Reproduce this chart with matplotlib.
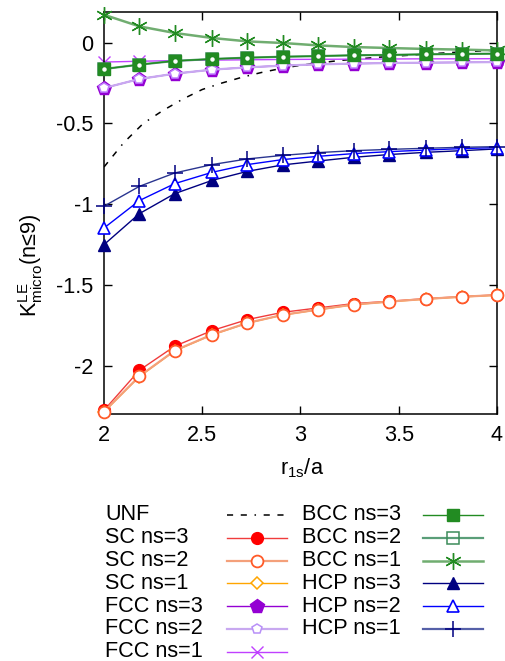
import matplotlib
matplotlib.use('Agg')
import matplotlib.pyplot as plt

plt.rcParams['font.family'] = ['Liberation Sans', 'DejaVu Sans']
plt.rcParams['mathtext.fontset'] = 'custom'
plt.rcParams['mathtext.rm'] = 'Liberation Sans'
plt.rcParams['mathtext.it'] = 'Liberation Sans'

FS = 15.6

# ---------------- data ----------------
r1s = [2.00, 2.18, 2.36, 2.55, 2.73, 2.91, 3.09, 3.27, 3.45, 3.64, 3.82, 4.00]

unf_r = [2.0, 2.1, 2.2, 2.3, 2.4, 2.5, 2.6, 2.7, 2.8, 2.9, 3.0,
         3.1, 3.2, 3.3, 3.4, 3.5, 3.6, 3.7, 3.8, 3.9, 4.0]
unf_k = [-0.77, -0.62, -0.50, -0.42, -0.35, -0.29, -0.25, -0.215, -0.185, -0.16, -0.14,
         -0.125, -0.11, -0.10, -0.09, -0.082, -0.074, -0.066, -0.059, -0.052, -0.046]

sc3 = [-2.277, -2.029, -1.880, -1.783, -1.715, -1.670, -1.643, -1.616, -1.602, -1.585, -1.573, -1.562]
sc2 = [-2.285, -2.066, -1.907, -1.808, -1.736, -1.686, -1.653, -1.622, -1.604, -1.587, -1.574, -1.563]
sc1 = [-2.287, -2.068, -1.909, -1.810, -1.737, -1.687, -1.654, -1.623, -1.605, -1.588, -1.575, -1.564]

fcc3 = [-0.281, -0.225, -0.192, -0.167, -0.153, -0.142, -0.134, -0.130, -0.126, -0.124, -0.122, -0.120]
fcc2 = [-0.281, -0.225, -0.192, -0.167, -0.153, -0.142, -0.134, -0.130, -0.126, -0.124, -0.122, -0.120]
fcc1 = [-0.120, -0.115, -0.111, -0.108, -0.106, -0.104, -0.103, -0.102, -0.101, -0.100, -0.100, -0.099]

bcc3 = [-0.163, -0.136, -0.113, -0.101, -0.093, -0.087, -0.083, -0.078, -0.076, -0.072, -0.070, -0.068]
bcc2 = [-0.163, -0.136, -0.113, -0.101, -0.093, -0.087, -0.083, -0.078, -0.076, -0.072, -0.070, -0.068]
bcc1 = [0.173, 0.101, 0.060, 0.029, 0.008, -0.002, -0.017, -0.027, -0.033, -0.039, -0.043, -0.048]

hcp3 = [-1.251, -1.059, -0.935, -0.853, -0.797, -0.757, -0.733, -0.710, -0.693, -0.679, -0.669, -0.658]
hcp2 = [-1.148, -0.978, -0.873, -0.803, -0.755, -0.724, -0.704, -0.687, -0.675, -0.665, -0.656, -0.650]
hcp1 = [-1.013, -0.890, -0.807, -0.755, -0.720, -0.698, -0.681, -0.669, -0.661, -0.654, -0.648, -0.644]

labels = ['UNF', 'SC ns=3', 'SC ns=2', 'SC ns=1', 'FCC ns=3', 'FCC ns=2', 'FCC ns=1',
          'BCC ns=3', 'BCC ns=2', 'BCC ns=1', 'HCP ns=3', 'HCP ns=2', 'HCP ns=1']

# ---------------- styles ----------------
unf_style = dict(color='black', lw=1.1, linestyle=(0, (4, 5, 4, 5, 1, 5)))
styles = {
    'SC ns=3':  dict(color='#f03c3c', lw=1.0, marker='o', ms=8.5, mfc='#ff0000', mec='#ff0000'),
    'SC ns=2':  dict(color='#f4a07a', lw=1.6, marker='o', ms=8.5, mfc='white', mec='#ff5a28', mew=1.3),
    'SC ns=1':  dict(color='#ffa500', lw=1.0, marker='D', ms=6.5, mfc='white', mec='#ffa500', mew=1.1),
    'FCC ns=3': dict(color='#9400d3', lw=1.0, marker='p', ms=10, mfc='#9400d3', mec='#9400d3'),
    'FCC ns=2': dict(color='#c8a8f0', lw=1.6, marker='p', ms=7.5, mfc='white', mec='#c080ff', mew=1.1),
    'FCC ns=1': dict(color='#c040ff', lw=1.0, marker='x', ms=9, mfc='none', mec='#c040ff', mew=1.0),
    'BCC ns=3': dict(color='#228b22', lw=1.0, marker='s', ms=9, mfc='#228b22', mec='#228b22'),
    'BCC ns=2': dict(color='#5a9e78', lw=1.6, marker='s', ms=8, mfc='none', mec='#3c8c5a', mew=1.1),
    'BCC ns=1': dict(color='#70ad70', lw=1.8, marker=(6, 2, 0), ms=12, mfc='none', mec='#228b22', mew=1.0),
    'HCP ns=3': dict(color='#000080', lw=1.0, marker='^', ms=9, mfc='#000080', mec='#000080'),
    'HCP ns=2': dict(color='#0000ff', lw=1.0, marker='^', ms=9, mfc='white', mec='#0000ff', mew=1.2),
    'HCP ns=1': dict(color='#5560a8', lw=1.6, marker='+', ms=11, mfc='none', mec='#000080', mew=1.1),
}
series = {'SC ns=3': sc3, 'SC ns=2': sc2, 'SC ns=1': sc1,
          'FCC ns=3': fcc3, 'FCC ns=2': fcc2, 'FCC ns=1': fcc1,
          'BCC ns=3': bcc3, 'BCC ns=2': bcc2, 'BCC ns=1': bcc1,
          'HCP ns=3': hcp3, 'HCP ns=2': hcp2, 'HCP ns=1': hcp1}
zorders = {'SC ns=3': 3, 'SC ns=2': 4, 'SC ns=1': 3.5,
           'FCC ns=3': 3, 'FCC ns=2': 4, 'FCC ns=1': 2.5,
           'BCC ns=3': 5, 'BCC ns=2': 4.5, 'BCC ns=1': 3,
           'HCP ns=3': 3, 'HCP ns=2': 3, 'HCP ns=1': 3}

W, H = 506, 661
fig = plt.figure(figsize=(W / 100, H / 100), dpi=100)
L, R, T, B = 104, 497, 12, 414
ax = fig.add_axes([L / W, 1 - B / H, (R - L) / W, (B - T) / H])

ax.plot(unf_r, unf_k, zorder=2, **unf_style)
for name in labels[1:]:
    st = dict(styles[name])
    if name == 'HCP ns=1':
        st['color'] = '#2a3590'
        st['lw'] = 1.0
    ax.plot(r1s, series[name], zorder=zorders[name], clip_on=False, **st)
# small centre dots of the open square points
ax.plot(r1s, bcc2, linestyle='none', marker='o', ms=2.2, mfc='white', mec='white', zorder=6, clip_on=False)

ax.set_xlim(2, 4)
ax.set_ylim(-2.3, 0.19)
ax.set_xticks([2, 2.5, 3, 3.5, 4])
ax.set_xticklabels(['2', '2.5', '3', '3.5', '4'])
ax.set_yticks([0, -0.5, -1, -1.5, -2])
ax.set_yticklabels(['0', '-0.5', '-1', '-1.5', '-2'])
ax.tick_params(direction='in', length=6, width=1, top=True, right=True,
               labelsize=FS, pad=8)
for s in ax.spines.values():
    s.set_linewidth(1.1)

fig.text(31 / W, 1 - 265 / H, r'K$_{\rm micro}^{\rm LE}$(n≤9)', rotation=90,
         ha='center', va='center', fontsize=FS)
fig.text(302 / W, 1 - 468 / H, r'r$_{\rm 1s}$/a', ha='center', va='center', fontsize=FS)

# ---------------- legend (gnuplot style: label left, sample right) ----------------
lax = fig.add_axes([0, 0, 1, 1], facecolor='none')
lax.set_xlim(0, W)
lax.set_ylim(H, 0)
lax.axis('off')
row_y = [515 + 22.8 * i for i in range(7)]
cols = [(105, 227, 287), (302, 423, 483)]
for i, name in enumerate(labels):
    c = 0 if i < 7 else 1
    row = i if i < 7 else i - 7
    tx, x0, x1 = cols[c]
    y = row_y[row]
    lax.text(tx, y, name, ha='left', va='center', fontsize=FS)
    if name == 'UNF':
        lax.plot([x0, x1], [y, y], **unf_style)
    else:
        st = dict(styles[name])
        mk = dict(marker=st.pop('marker'), ms=st.pop('ms'), mfc=st.pop('mfc'), mec=st.pop('mec'))
        if 'mew' in st:
            mk['mew'] = st.pop('mew')
        if name == 'FCC ns=2':
            mk['mec'] = '#b890f8'
        lax.plot([x0, x1], [y, y], color=st['color'], lw=st['lw'])
        lax.plot([(x0 + x1) / 2], [y], linestyle='none', **mk)

fig.savefig('out.png', dpi=100)
